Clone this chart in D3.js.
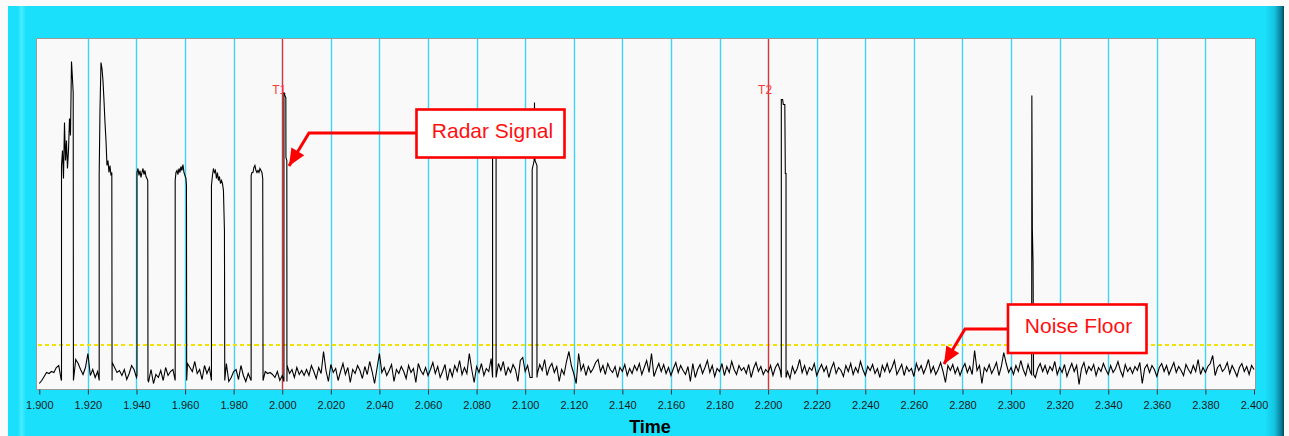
<!DOCTYPE html>
<html><head><meta charset="utf-8">
<script src="https://cdn.jsdelivr.net/npm/d3@7"></script>
<style>body{margin:0;background:#fff;}svg{display:block;}</style>
</head><body>
<svg id="c" width="1289" height="436"></svg>
<script>
// ---------------- DATA ----------------
const tStart = 1.900;
const tStep = 0.001;
// noise trace amplitude samples (one per tStep)
const noise = [
 6,9,13,17,16,18,17,22,24,10,
 12,12,12,12,12,30,26,20,15,22,
 36,14,20,12,18,12,12,12,12,12,
 27,22,17,19,14,20,10,16,24,20,
 12,12,12,12,12,8,20,6,15,12,
 19,9,22,14,18,20,12,12,12,12,
 12,26,22,18,28,16,20,10,24,16,
 22,12,12,12,12,12,12,26,8,12,
 18,20,10,24,14,8,16,10,12,12,
 12,12,12,18,16,17,15,12,18,9,
 14,12,24,16,20,12,22,15,19,14,
 20,14,24,18,11,22,16,38,19,8,
 25,17,21,9,18,26,15,22,7,20,
 16,24,19,11,23,15,28,18,6,21,
 36,17,22,14,19,25,8,20,16,23,
 18,11,24,17,21,7,26,19,15,22,
 14,20,27,16,23,12,18,25,9,21,
 13,24,18,29,15,22,16,36,20,7,
 23,17,26,14,21,18,31,22,15,26,
 19,28,14,22,17,25,20,8,29,32,
 18,24,12,27,21,16,25,19,30,14,
 22,26,17,23,8,20,15,28,38,24,
 16,6,36,19,25,14,23,17,21,27,
 30,18,24,15,26,20,17,23,12,22,
 18,25,14,21,16,24,19,26,15,22,
 29,17,36,13,20,26,18,25,16,22,
 14,21,27,17,24,19,15,23,8,26,
 12,20,25,16,22,29,17,24,13,21,
 18,26,14,23,17,28,20,15,24,19,
 22,16,25,12,21,27,18,23,15,20,
 17,24,14,22,26,19,9,25,18,11,
 23,16,21,30,17,24,15,22,19,26,
 14,20,25,18,23,12,21,27,16,22,
 19,13,24,18,26,15,22,17,28,20,
 14,23,19,25,16,21,12,24,18,26,
 17,22,29,15,20,25,14,23,18,21,
 13,26,19,24,16,22,30,17,23,15,
 20,27,18,7,24,19,25,16,22,14,
 21,26,17,23,15,39,19,24,6,22,
 18,25,16,21,27,14,23,37,26,17,
 22,15,24,18,29,20,14,25,17,23,
 12,21,26,18,24,16,23,19,28,15,
 22,17,25,13,20,26,18,24,5,21,
 27,16,23,19,25,14,22,18,26,20,
 15,24,17,21,28,19,13,25,18,22,
 16,23,19,27,6,21,25,17,24,20,
 13,22,26,18,24,15,21,27,17,23,
 19,14,25,20,16,24,18,30,15,22,
 17,23,26,34,14,22,25,18,21,27,
 16,24,19,13,22,26,18,23,15,24,
 20
];
// radar pulses: [time, amplitude] points
const pulse1 = [[1.90914,9],[1.90914,224],[1.90955,239],[1.90996,211],[1.91037,267],[1.91078,229],[1.91119,249],[1.91160,221],[1.91202,239],[1.91243,271],[1.91284,254],[1.91325,328],[1.91358,314],[1.91395,297],[1.91405,9]];
const pulse2 = [[1.92465,9],[1.92465,214],[1.92498,279],[1.92539,327],[1.92580,321],[1.92621,309],[1.92663,289],[1.92704,267],[1.92745,249],[1.92786,224],[1.92827,229],[1.92868,217],[1.92909,224],[1.92951,214],[1.92985,217],[1.92995,9]];
const pulse3 = [[1.94021,14],[1.94021,217],[1.94062,221],[1.94103,214],[1.94144,219],[1.94185,212],[1.94226,217],[1.94268,221],[1.94309,215],[1.94350,219],[1.94391,213],[1.94432,211],[1.94465,209],[1.94473,9]];
const pulse4 = [[1.95593,9],[1.95593,209],[1.95626,217],[1.95667,219],[1.95708,215],[1.95749,221],[1.95790,217],[1.95831,223],[1.95872,219],[1.95913,225],[1.95955,217],[1.95996,214],[1.96037,211],[1.96058,204],[1.96066,9]];
const pulse5 = [[1.97086,9],[1.97086,204],[1.97128,214],[1.97169,221],[1.97210,217],[1.97251,219],[1.97292,211],[1.97333,217],[1.97374,209],[1.97416,213],[1.97457,206],[1.97498,209],[1.97539,206],[1.97580,199],[1.97621,159],[1.97634,9]];
const pulse6 = [[1.98720,9],[1.98720,214],[1.98753,217],[1.98794,217],[1.98835,222],[1.98876,224],[1.98918,219],[1.98959,217],[1.99000,219],[1.99041,217],[1.99082,221],[1.99123,219],[1.99164,217],[1.99197,211],[1.99210,9]];
const pulseT1 = [[2.00070,8],[2.00070,297],[2.00111,294],[2.00148,292],[2.00152,232],[2.00189,229],[2.00193,8]];
const pulseA = [[2.08658,12],[2.08658,259],[2.08802,255],[2.08802,12]];
const pulseB = [[2.10288,12],[2.10288,220],[2.10370,229],[2.10383,287],[2.10403,229],[2.10485,224],[2.10485,12]];
const pulseT2 = [[2.20543,12],[2.20543,290],[2.20597,290],[2.20625,285],[2.20687,285],[2.20708,216],[2.20737,216],[2.20737,12]];
const pulseC = [[2.30848,15],[2.30856,294],[2.30877,160],[2.30905,127],[2.30926,15]];
const pulses = [pulse1,pulse2,pulse3,pulse4,pulse5,pulse6,pulseT1,pulseA,pulseB,pulseT2,pulseC];

const tickLabels = ["1.900","1.920","1.940","1.960","1.980","2.000","2.020","2.040","2.060","2.080","2.100","2.120","2.140","2.160","2.180","2.200","2.220","2.240","2.260","2.280","2.300","2.320","2.340","2.360","2.380","2.400"];
const markerNames = ["T1","T2"];
const markerTimes = [2.000, 2.200];
const noiseFloor = 45;
const axisTitle = "Time";
const noteTexts = ["Radar Signal","Noise Floor"];

// ---------------- LAYOUT ----------------
const W = 1289, H = 436;
const P = {left:36.5, right:1255.5, top:38.5, bottom:389.5};
const font = "'Liberation Sans', Arial, sans-serif";
const svg = d3.select("#c");
const x = d3.scaleLinear().domain([1.9, 2.4]).range([39.3, 1254]);
const y = d3.scaleLinear().domain([0, 350]).range([389.5, 39.5]);

const defs = svg.append("defs");
const gL = defs.append("linearGradient").attr("id","gl").attr("x1","0").attr("x2","1");
gL.append("stop").attr("offset","0").attr("stop-color","#1ae0fc");
gL.append("stop").attr("offset","0.55").attr("stop-color","#1ae0fc");
gL.append("stop").attr("offset","0.75").attr("stop-color","#48ecff");
gL.append("stop").attr("offset","1").attr("stop-color","#1ae0fc");
const gR = defs.append("linearGradient").attr("id","gr").attr("x1","0").attr("x2","1");
gR.append("stop").attr("offset","0").attr("stop-color","#1ae0fc");
gR.append("stop").attr("offset","0.5").attr("stop-color","#14c4e0");
gR.append("stop").attr("offset","0.85").attr("stop-color","#0a7d98");
gR.append("stop").attr("offset","1").attr("stop-color","#05485c");
defs.append("clipPath").attr("id","clip").append("rect")
  .attr("x",P.left).attr("y",P.top).attr("width",P.right-P.left).attr("height",P.bottom-P.top);

// frame
svg.append("rect").attr("width",W).attr("height",H).attr("fill","#fafafa");
svg.append("rect").attr("x",8).attr("y",6).attr("width",1276).attr("height",H-6).attr("fill","#1ae0fc");
svg.append("rect").attr("x",8).attr("y",6).attr("width",18).attr("height",H-6).attr("fill","url(#gl)");
svg.append("rect").attr("x",1265).attr("y",6).attr("width",19).attr("height",H-6).attr("fill","url(#gr)");

// plot area
svg.append("rect").attr("x",P.left).attr("y",P.top).attr("width",P.right-P.left).attr("height",P.bottom-P.top)
  .attr("fill","#f9f9f9").attr("stroke","#9a9a9a").attr("stroke-width",1);

const tickVals = tickLabels.map(Number);
// grid
svg.append("g").selectAll("line").data(tickVals.slice(1,-1)).join("line")
  .attr("x1",d=>Math.round(x(d))+0.5).attr("x2",d=>Math.round(x(d))+0.5)
  .attr("y1",P.top+0.5).attr("y2",P.bottom-0.5)
  .attr("stroke","#3fd4f5").attr("stroke-width",1.4);

// noise floor
svg.append("line").attr("x1",P.left+1).attr("x2",P.right-1)
  .attr("y1",Math.round(y(noiseFloor))).attr("y2",Math.round(y(noiseFloor)))
  .attr("stroke","#f2e200").attr("stroke-width",2).attr("stroke-dasharray","4,3")
  .attr("shape-rendering","crispEdges");

// markers
const mk = svg.append("g");
markerTimes.forEach((t,i)=>{
  const mx = Math.round(x(t))+0.5;
  mk.append("line").attr("x1",mx).attr("x2",mx).attr("y1",P.top+0.5).attr("y2",P.bottom-0.5)
    .attr("stroke","#ff2424").attr("stroke-width",1.2);
});

// trace
const pts = [];
noise.forEach((v,i)=>{
  const t = tStart + i*tStep;
  if(!pulses.some(p=> t>=p[0][0]-1e-9 && t<=p[p.length-1][0]+1e-9)) pts.push([t,v]);
});
pulses.forEach(p=>p.forEach(d=>pts.push(d)));
pts.sort((a,b)=>a[0]-b[0]);
svg.append("path").datum(pts).attr("clip-path","url(#clip)")
  .attr("fill","none").attr("stroke","#000").attr("stroke-width",1.1).attr("stroke-linejoin","miter")
  .attr("d", d3.line().x(d=>x(d[0])).y(d=>y(d[1])));

// marker labels
markerTimes.forEach((t,i)=>{
  mk.append("text").attr("x",x(t)-3).attr("y",93.5).attr("text-anchor","middle")
    .attr("font-family",font).attr("font-size",12).attr("fill","#ff3a3a").text(markerNames[i]);
});

// axis
const ax = svg.append("g").attr("transform",`translate(0,${P.bottom})`)
  .call(d3.axisBottom(x).tickValues(tickVals).tickFormat((d,i)=>tickLabels[i]).tickSize(5).tickSizeOuter(0).tickPadding(6.5));
ax.select(".domain").remove();
ax.selectAll(".tick line").attr("stroke","#333");
ax.selectAll("text").attr("font-family",font).attr("font-size",11).attr("fill","#1a1a1a");
svg.append("text").attr("x",650).attr("y",433).attr("text-anchor","middle")
  .attr("font-family",font).attr("font-size",18).attr("font-weight","bold").attr("fill","#000").text(axisTitle);

// annotations
function note(box, text, tx, ty, arrow){
  const g = svg.append("g");
  g.append("path").attr("d", d3.line()(arrow)).attr("fill","none").attr("stroke","#ff0000").attr("stroke-width",3);
  const tip = arrow[arrow.length-1], prev = arrow[arrow.length-2];
  const dx = tip[0]-prev[0], dy = tip[1]-prev[1], L = Math.hypot(dx,dy);
  const ux = dx/L, uy = dy/L, hl = 17, hw = 7.5;
  const bx = tip[0]-ux*hl, by = tip[1]-uy*hl;
  g.append("path").attr("d", d3.line()([tip,[bx-uy*hw,by+ux*hw],[bx+uy*hw,by-ux*hw]])+"Z").attr("fill","#ff0000");
  g.append("rect").attr("x",box[0]).attr("y",box[1]).attr("width",box[2]).attr("height",box[3])
    .attr("fill","#fff").attr("stroke","#ff0000").attr("stroke-width",2.6);
  g.append("text").attr("x",tx).attr("y",ty).attr("text-anchor","middle")
    .attr("font-family",font).attr("font-size",21).attr("fill","#ff1010").text(text);
}
note([416.5,109.5,148,48], noteTexts[0], 492.5, 138, [[417,133],[309,133],[289,166]]);
note([1008,304.5,138.5,48.5], noteTexts[1], 1078.5, 333, [[1008,329],[965,329],[944,364]]);
</script>
</body></html>
